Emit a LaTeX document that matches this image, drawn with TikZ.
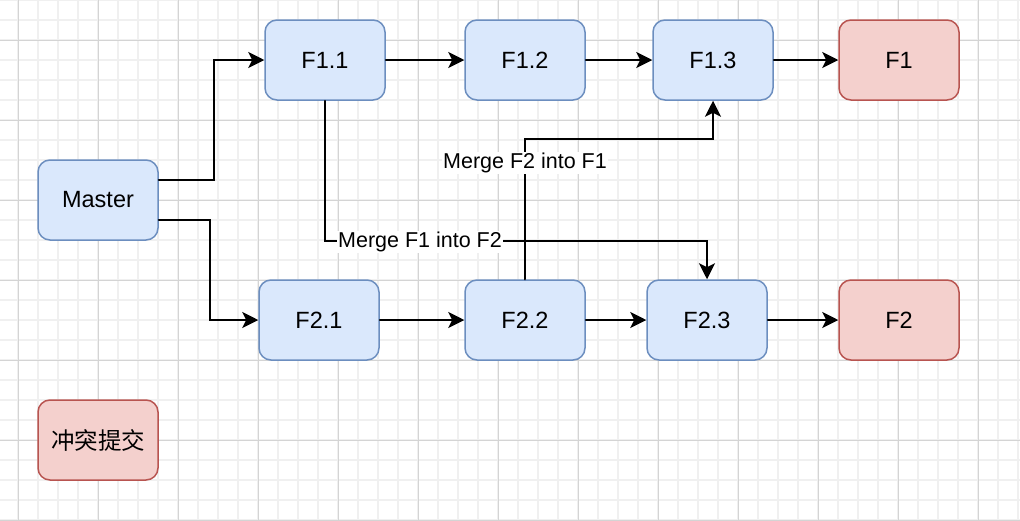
\documentclass[tikz,border=0pt]{standalone}
\usepackage{fontspec}
\setmainfont{Liberation Sans}
\newfontfamily\cjk{Noto Sans CJK SC}
\usetikzlibrary{arrows.meta}
\usetikzlibrary{calc}

\definecolor{blueFill}{HTML}{DAE8FC}
\definecolor{blueLine}{HTML}{6C8EBF}
\definecolor{redFill}{HTML}{F4D0CD}
\definecolor{redLine}{HTML}{B85450}
\definecolor{gridMinor}{HTML}{F0F0F0}
\definecolor{gridMajor}{HTML}{D4D4D4}

\tikzset{
    branchbox/.style={draw=blueLine, fill=blueFill, line width=1.5pt, rounded corners=12pt,
        minimum width=120pt, minimum height=80pt, inner sep=0pt,
        font=\fontsize{23.5}{28}\selectfont},
    headbox/.style={branchbox, draw=redLine, fill=redFill},
    flow/.style={line width=2pt, -{Stealth[length=16pt, width=16pt, inset=4pt]}},
    mergelabel/.style={fill=white, inner sep=1pt, font=\fontsize{21.5}{26}\selectfont},
}

\begin{document}
\begin{tikzpicture}[x=1pt, y=-1pt, line cap=round]

    \fill[white] (0,0) rectangle (1020,520);
    \useasboundingbox (0,0) rectangle (1020,520);

    % background grid
    \foreach \gx in {-2,18,...,1018} \draw[gridMinor, line width=1.2pt] (\gx,0) -- (\gx,520);
    \foreach \gy in {0,20,...,520} \draw[gridMinor, line width=1.2pt] (0,\gy) -- (1020,\gy);
    \foreach \gx in {18,98,...,978} \draw[gridMajor, line width=1pt] (\gx,0) -- (\gx,520);
    \foreach \gy in {40,120,...,520} \draw[gridMajor, line width=1pt] (0,\gy) -- (1020,\gy);

    \node[branchbox] (master) at (98,200) {Master};

    \node[branchbox] (f11) at (325,60) {F1.1};
    \node[branchbox] (f12) at (525,60) {F1.2};
    \node[branchbox] (f13) at (713,60) {F1.3};
    \node[headbox] (f1) at (899,60) {F1};

    \node[branchbox] (f21) at (319,320) {F2.1};
    \node[branchbox] (f22) at (525,320) {F2.2};
    \node[branchbox] (f23) at (707,320) {F2.3};
    \node[headbox] (f2) at (899,320) {F2};

    \node[headbox] (conflict) at (98,440) {\cjk 冲突提交};

    \draw[flow] ([yshift=20pt]master.east) -- ++(55,0) |- (f11.west);
    \draw[flow] ([yshift=-20pt]master.east) -- ++(51,0) |- (f21.west);

    \draw[flow] (f11) -- (f12);
    \draw[flow] (f12) -- (f13);
    \draw[flow] (f13) -- (f1);
    \draw[flow] (f21) -- (f22);
    \draw[flow] (f22) -- (f23);
    \draw[flow] (f23) -- (f2);

    % merges between the branches
    \draw[flow] (f11.south) -- ++(0,140) -| (f23.north);
    \draw[flow] (f22.north) -- ++(0,-140) -| (f13.south);
    \node[mergelabel] (mergeA) at (420,242) {Merge F1 into F2};
    \node[mergelabel] (mergeB) at (525,163) {Merge F2 into F1};

\end{tikzpicture}
\end{document}
